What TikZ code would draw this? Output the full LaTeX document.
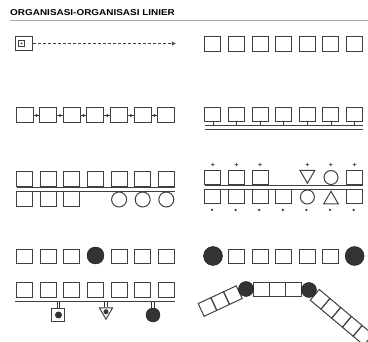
\documentclass[tikz,border=0pt]{standalone}
\usepackage{fontspec}
\setmainfont{Liberation Sans}
\usetikzlibrary{shapes.geometric, arrows.meta, positioning, calc}

\begin{document}
\begin{tikzpicture}[
    x=1pt, y=-1pt,
    cell/.style={draw=black!75, line width=1pt, rectangle, minimum width=16pt, minimum height=#1, inner sep=0pt},
    cell/.default=14pt,
    ring/.style={draw=black!75, line width=1pt, circle, minimum size=#1, inner sep=0pt},
    ring/.default=14pt,
    hub/.style={circle, fill=black!80, draw=black!90, minimum size=#1, inner sep=0pt},
    hub/.default=17pt,
    vee/.style={draw=black!75, line width=1pt, regular polygon, regular polygon sides=3, shape border rotate=180, minimum size=#1, inner sep=0pt},
    vee/.default=17pt,
    peak/.style={draw=black!75, line width=1pt, regular polygon, regular polygon sides=3, minimum size=17pt, inner sep=0pt},
    rail/.style={draw=black!75, line width=0.8pt, double=white, double distance=3pt},
    stem/.style={draw=black!80, line width=0.9pt, double=white, double distance=1.6pt},
    link/.style={draw=black!75, line width=1pt},
    dot/.style={circle, fill=black!80, minimum size=#1, inner sep=0pt},
    dot/.default=3pt,
    sign/.style={font=\bfseries\fontsize{7}{7}\selectfont, inner sep=0pt, text=black!80}
]
\useasboundingbox (0,0) rectangle (368,342);

% Judul
\node[font=\bfseries\fontsize{8.5}{10}\selectfont, anchor=west, xscale=1.17, inner sep=0pt] (title) at (10,13) {ORGANISASI-ORGANISASI LINIER};
\coordinate (rule-l) at (10,20);
\coordinate (rule-r) at (368,20);
\draw[black!35, line width=0.8pt] (rule-l) -- (rule-r);

% Baris 1: arah linier
\node[cell, minimum width=17pt] (origin) at (24.5,43.5) {};
\node[draw=black!75, line width=0.7pt, minimum size=6pt, inner sep=0pt] (seed) at (21.5,43.5) {};
\node[dot=2pt] at (seed) {};
\coordinate (goal) at (176,43.5);
\draw[link, line width=0.8pt, dash pattern=on 2.5pt off 2.5pt, -{Latex[length=4pt,width=4pt]}] (origin) -- (goal);

\foreach \i in {0,...,6}
    \node[cell=15pt] (plain-\i) at (213+23.6*\i, 44.5) {};

% Baris 2: rangkaian dan tulang punggung
\foreach \i in {0,...,6}
    \node[cell=15pt, minimum width=17pt] (chain-\i) at (24.7+23.6*\i, 115.5) {};
\foreach \i/\j in {0/1,1/2,2/3,3/4,4/5,5/6}
    \draw[link] (chain-\i) -- node[dot]{} (chain-\j);

\foreach \i in {0,...,6}
    \node[cell] (spine-\i) at (213+23.6*\i, 115) {};
\coordinate (spine-l) at (205,127.5);
\coordinate (spine-r) at (363,127.5);
\foreach \i in {0,...,6}
    \draw[link, line width=0.8pt] (spine-\i.south) -- (spine-\i.south |- spine-l);
\draw[rail] (spine-l) -- (spine-r);

% Baris 3: dua sisi
\foreach \i in {0,...,6}
    \node[cell=15pt] (both-top-\i) at (24.7+23.6*\i, 179.5) {};
\foreach \i in {0,1,2}
    \node[cell=15pt] (both-bot-\i) at (24.7+23.6*\i, 199.5) {};
\foreach \i in {4,5,6}
    \node[ring=15pt] (both-bot-\i) at (24.7+23.6*\i, 199.5) {};
\coordinate (both-l) at (17,189.5);
\coordinate (both-r) at (175,189.5);
\draw[rail] (both-l) -- (both-r);

\foreach \i in {0,1,2,6}
    \node[cell] (mix-top-\i) at (213+23.6*\i, 177.5) {};
\node[vee] (mix-top-4) at (307.4,174.75) {};
\node[ring] (mix-top-5) at (331,177.5) {};
\foreach \i in {0,...,3,6}
    \node[cell] (mix-bot-\i) at (213+23.6*\i, 197) {};
\node[ring] (mix-bot-4) at (307.4,197) {};
\node[peak] (mix-bot-5) at (331,199.75) {};
\coordinate (mix-l) at (205,187.5);
\coordinate (mix-r) at (363,187.5);
\draw[rail] (mix-l) -- (mix-r);
\foreach \i in {0,1,2,4,5,6}
    \node[sign] (plus-\i) at (213+23.6*\i, 165) {+};
\foreach \i in {0,...,6}
    \node[dot=2.5pt] (minus-\i) at (212+23.6*\i, 210) {};

% Baris 4: unsur penting
\foreach \i in {0,1,2,4,5,6}
    \node[cell] (focus-\i) at (24.7+23.6*\i, 256.5) {};
\node[hub] (focus-3) at (95.5,255.5) {};

\foreach \i in {0,...,6}
    \node[cell=15pt] (base-\i) at (24.7+23.6*\i, 290) {};
\node[cell, minimum width=13pt, minimum height=13pt] (box) at (58.5,315) {};
\node[dot=7pt] at (box) {};
\node[vee=15pt] (wedge) at (106,311.75) {};
\node[dot=5pt] at (wedge) {};
\node[hub=14pt] (ball) at (153,315) {};
\coordinate (base-l) at (15,300);
\coordinate (base-r) at (175,300);
\coordinate (tap-1) at (58.5,300);
\coordinate (tap-2) at (106,300);
\coordinate (tap-3) at (153,300);
\draw[stem] (tap-1) -- (box);
\draw[stem] (tap-2) -- (wedge);
\draw[stem] (tap-3) -- (ball);
\draw[rail] (base-l) -- (base-r);

\node[hub=19pt] (end-l) at (213,256) {};
\foreach \i in {1,...,5}
    \node[cell] (end-\i) at (213+23.6*\i, 256.5) {};
\node[hub=19pt] (end-r) at (354.6,256) {};

% Baris 4 kanan: rangkaian berbelok
\foreach \i in {0,1,2}
    \node[cell, minimum width=16pt] (mid-\i) at (261.5+16*\i, 289.5) {};
\coordinate (knee-l) at (246,289);
\coordinate (knee-r) at (309,290);
\foreach \k in {0,1,2} {
    \pgfmathsetmacro\d{14.5+14*\k}
    \node[cell, minimum width=14pt, rotate=25] (arm-l-\k) at ($(knee-l)+(-0.906*\d, 0.423*\d)$) {};
}
\foreach \k in {0,...,4} {
    \pgfmathsetmacro\d{14.5+14*\k}
    \node[cell, minimum width=14pt, rotate=-40] (arm-r-\k) at ($(knee-r)+(0.766*\d, 0.643*\d)$) {};
}
\node[hub=15pt] (hinge-l) at (knee-l) {};
\node[hub=15pt] (hinge-r) at (knee-r) {};

\end{tikzpicture}
\end{document}
